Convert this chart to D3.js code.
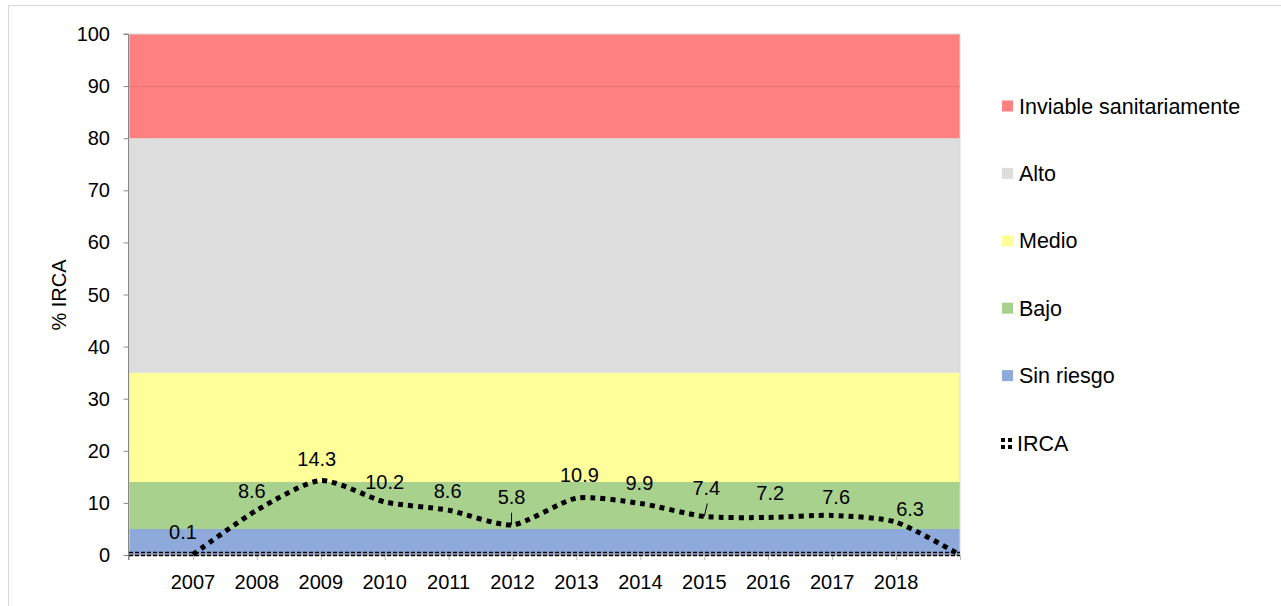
<!DOCTYPE html>
<html>
<head>
<meta charset="utf-8">
<script src="https://cdn.jsdelivr.net/npm/d3@7"></script>
<style>
body{margin:0;background:#fff;}
svg text{font-family:"Liberation Sans",Arial,sans-serif;font-size:20px;fill:#000;}
</style>
</head>
<body>
<svg width="1281" height="606"></svg>
<script>
/*data*/
const years=['','2007','2008','2009','2010','2011','2012','2013','2014','2015','2016','2017','2018','']
const irca=[null,0.1,8.6,14.3,10.2,8.6,5.8,10.9,9.9,7.4,7.2,7.6,6.3,0]
const bandNames=['Sin riesgo','Bajo','Medio','Alto','Inviable sanitariamente']
const bandTops=[5,14,35,80,100]
const bandColors=['#8eaadb','#a9d18e','#ffff99','#dddddd','#ff8080']
const yTicks=d3.range(0,101,10)
// label nudges (px) relative to each point
const labelOff=[null,[-10,-22],[-5,-19],[-4,-21],[0,-20],[-1,-19],[-1,-28],[3,-23],[-1,-20],[2,-28],[2,-24],[4,-18],[14,-13],null]

let svg=d3.select('svg')

let x=d3.scalePoint().domain(d3.range(years.length)).range([129,960])
let y=d3.scaleLinear().domain([0,100]).range([555,34])

function txt(g,s,px,py,anchor){
  return g.append('text').text(s)
    .attr('text-anchor',anchor||'middle')
    .attr('x',px).attr('y',py)
    .attr('dy','0.35em')
}

// frame
svg.append('rect').attr('x',8.5).attr('y',5.5).attr('width',1400).attr('height',800)
  .attr('fill','none').attr('stroke','#d9d9d9')

// bands
let bands=bandTops.map((t,i)=>({name:bandNames[i],lo:i?bandTops[i-1]:0,hi:t,color:bandColors[i]}))
svg.append('g').selectAll('path').data(bands).enter().append('path')
  .attr('fill',d=>d.color)
  .attr('d',d=>d3.area().x(i=>x(i)).y0(y(d.lo)).y1(y(d.hi))(d3.range(years.length)))

// plot border + 90 gridline
svg.append('rect').attr('x',x(0)).attr('y',y(100)).attr('width',x(years.length-1)-x(0)).attr('height',y(0)-y(100))
  .attr('fill','none').attr('stroke','#d9d9d9')
svg.append('line').attr('x1',x(0)).attr('x2',x(years.length-1)).attr('y1',y(90)+0.5).attr('y2',y(90)+0.5)
  .attr('stroke','#e57373').attr('stroke-width',1)

// axes
let ya=svg.append('g').attr('transform','translate('+(x(0)-0.5)+',0)')
  .call(d3.axisLeft(y).tickValues(yTicks).tickSize(5).tickFormat(''))
ya.selectAll('line,path').attr('stroke','#888')
ya.select('.domain').attr('d','M-5,'+y(100)+'H0V'+(y(0)+5))
yTicks.forEach(v=>txt(svg,v,110,y(v),'end'))

let xa=svg.append('g').attr('transform','translate(0,'+y(0)+')')
  .call(d3.axisBottom(x).tickSize(5).tickFormat(''))
xa.selectAll('line').attr('stroke','#bbb')
xa.select('.domain').attr('stroke','#888').attr('d','M'+x(0)+',0H'+x(years.length-1))
years.forEach((s,i)=>{ if(s) txt(svg,s,x(i),582) })

// dashed baseline pair
;[y(0)-2.5,y(0)+0.5].forEach(yy=>{
  svg.append('line').attr('x1',x(0)).attr('x2',x(years.length-1)).attr('y1',yy).attr('y2',yy)
    .attr('stroke','#000').attr('stroke-width',1.4).attr('stroke-dasharray','4,2')
})

// IRCA line
let line=d3.line().defined(d=>d!=null).x((d,i)=>x(i)).y(d=>y(d)).curve(d3.curveCardinal.tension(0.3))
svg.append('path').datum(irca).attr('d',line)
  .attr('fill','none').attr('stroke','#000').attr('stroke-width',5).attr('stroke-dasharray','5,5')

// data labels
irca.forEach((v,i)=>{
  if(v==null||!labelOff[i]) return
  txt(svg,v.toFixed(1),x(i)+labelOff[i][0],y(v)+labelOff[i][1])
})
// leader lines
svg.append('line').attr('x1',x(6)-1).attr('x2',x(6)-1).attr('y1',y(5.8)-12).attr('y2',y(5.8)).attr('stroke','#000')
svg.append('line').attr('x1',x(9)+3).attr('x2',x(9)).attr('y1',y(7.4)-13).attr('y2',y(7.4)).attr('stroke','#000')

// y title
svg.append('text').text('% IRCA').attr('text-anchor','middle')
  .attr('transform','translate(66,295) rotate(-90)')

// legend
let leg=svg.append('g')
let legItems=bands.slice().reverse()
legItems.forEach((d,i)=>{
  let ly=106+i*67.4
  leg.append('rect').attr('x',1002).attr('y',ly-5.5).attr('width',11).attr('height',11).attr('fill',d.color)
  txt(leg,d.name,1019,ly,'start').style('font-size','21.5px')
})
let ly=106+5*67.4
leg.append('path').attr('d','M1001,'+(ly-3)+'H1015M1001,'+(ly+4)+'H1015')
  .attr('stroke','#000').attr('stroke-width',4).attr('stroke-dasharray','4,3')
txt(leg,'IRCA',1017,ly,'start').style('font-size','21.5px')
</script>
</body>
</html>
